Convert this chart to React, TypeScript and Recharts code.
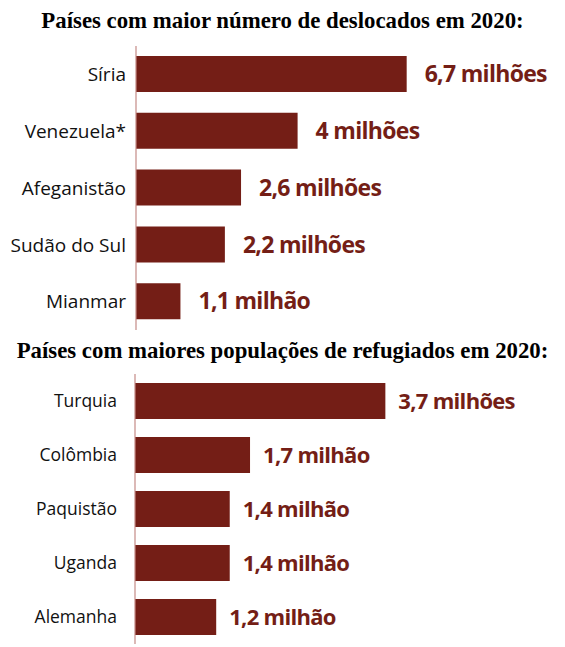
import { BarChart, Bar, XAxis, YAxis, LabelList } from 'recharts';

const deslocadosPaises = ['Síria', 'Venezuela*', 'Afeganistão', 'Sudão do Sul', 'Mianmar'];
const deslocadosValores = [6.7, 4, 2.6, 2.2, 1.1];
const deslocadosRotulos = ['6,7 milhões', '4 milhões', '2,6 milhões', '2,2 milhões', '1,1 milhão'];

const refugiadosPaises = ['Turquia', 'Colômbia', 'Paquistão', 'Uganda', 'Alemanha'];
const refugiadosValores = [3.7, 1.7, 1.4, 1.4, 1.2];
const refugiadosRotulos = ['3,7 milhões', '1,7 milhão', '1,4 milhão', '1,4 milhão', '1,2 milhão'];

const BAR = '#741e16';
const AXIS = '#c48a86';

const titleStyle: React.CSSProperties = {
  position: 'absolute',
  left: 0,
  width: 565,
  textAlign: 'center',
  fontFamily: '"Liberation Serif", "Times New Roman", serif',
  fontWeight: 'bold',
  fontSize: 22.8,
  color: '#000',
  whiteSpace: 'nowrap',
};

function build(names: string[], values: number[], labels: string[]) {
  return names.map((name, i) => ({ name, value: values[i], label: labels[i] }));
}

interface PanelProps {
  data: { name: string; value: number; label: string }[];
  top: number;
  height: number;
  axisWidth: number;
  max: number;
  right: number;
  barSize: number;
  tickMargin: number;
  tickSize: number;
  labelOffset: number;
  labelSize: number;
}

function Panel({ data, top, height, axisWidth, max, right, barSize, tickMargin, tickSize, labelOffset, labelSize }: PanelProps) {
  return (
    <div style={{ position: 'absolute', left: 0, top }}>
      <BarChart
        width={565}
        height={height}
        data={data}
        layout="vertical"
        margin={{ top: 0, right, bottom: 0, left: 0 }}
      >
        <XAxis type="number" domain={[0, max]} hide />
        <YAxis
          type="category"
          dataKey="name"
          width={axisWidth}
          tickLine={false}
          tickSize={0}
          tickMargin={tickMargin}
          axisLine={{ stroke: AXIS, strokeWidth: 1.2 }}
          tick={{ fill: '#111', fontSize: tickSize, fontFamily: '"Open Sans", sans-serif' }}
          interval={0}
        />
        <Bar dataKey="value" fill={BAR} barSize={barSize} isAnimationActive={false}>
          <LabelList
            dataKey="label"
            position="right"
            offset={labelOffset}
            fill={BAR}
            style={{ fontFamily: '"Open Sans", sans-serif', fontWeight: 700, fontSize: labelSize, letterSpacing: -0.7 }}
          />
        </Bar>
      </BarChart>
    </div>
  );
}

export default function App() {
  return (
    <div style={{ position: 'absolute', left: 0, top: 0, width: 565, height: 647, background: '#fff' }}>
      <div style={{ ...titleStyle, top: 8 }}>Países com maior número de deslocados em 2020:</div>
      <Panel
        data={build(deslocadosPaises, deslocadosValores, deslocadosRotulos)}
        top={46}
        height={284}
        axisWidth={136}
        max={10}
        right={25}
        barSize={36}
        tickMargin={10}
        tickSize={19}
        labelOffset={18}
        labelSize={23}
      />
      <div style={{ ...titleStyle, top: 338 }}>Países com maiores populações de refugiados em 2020:</div>
      <Panel
        data={build(refugiadosPaises, refugiadosValores, refugiadosRotulos)}
        top={374}
        height={270}
        axisWidth={135}
        max={6}
        right={24}
        barSize={36}
        tickMargin={18}
        tickSize={17.5}
        labelOffset={13}
        labelSize={22}
      />
    </div>
  );
}
